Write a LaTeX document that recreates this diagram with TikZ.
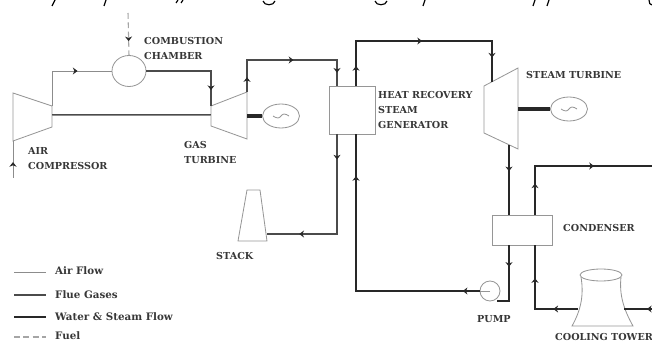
\documentclass[tikz,border=0pt]{standalone}
\usepackage{xcolor}
\usepackage{fontspec}
\setmainfont{DejaVu Serif}
\usetikzlibrary{arrows.meta, decorations.markings, shapes.geometric}
\definecolor{airgray}{RGB}{140,140,140}
\definecolor{fluegray}{RGB}{75,75,75}
\definecolor{watergray}{RGB}{40,40,40}
\definecolor{fuelgray}{RGB}{165,165,165}
\definecolor{labelgray}{RGB}{55,55,55}
\definecolor{boxgray}{RGB}{150,150,150}

\begin{document}
\begin{tikzpicture}[
    x=0.03cm,
    y=-0.03cm,
    flowmark/.style={postaction={decorate, decoration={markings, mark=at position #1 with {\arrow{Stealth[length=4pt, width=6pt, color=watergray]}}}}},
    airline/.style={draw=airgray, line width=0.8pt},
    flueline/.style={draw=fluegray, line width=1.4pt},
    waterline/.style={draw=watergray, line width=2.1pt},
    fuelline/.style={draw=fuelgray, line width=0.9pt, dash pattern=on 5pt off 3pt},
    unitbox/.style={draw=boxgray, line width=0.7pt, fill=white, inner sep=0pt},
    unitline/.style={draw=boxgray, line width=0.7pt},
    genlink/.style={draw=watergray, line width=3pt},
    shaftline/.style={draw=fluegray, line width=0.7pt, double=airgray, double distance=0.5pt},
    cutstroke/.style={draw=black, line width=1pt},
    label/.style={font=\bfseries\fontsize{8.2}{10}\selectfont, text=labelgray, inner sep=0pt, anchor=west},
    legend/.style={font=\bfseries\fontsize{8.8}{10}\selectfont, text=labelgray, inner sep=0pt, anchor=west}
]
    \useasboundingbox (0,0) rectangle (652,344);

    % Cut-off line above the figure
    \draw[cutstroke] (52,6) -- (55,0);
    \draw[cutstroke] (104,6) -- (106,0);
    \draw[cutstroke] (176,3) -- (178,0);
    \draw[cutstroke] (181,3) -- (183,0);
    \draw[cutstroke] (263,1) .. controls (264,6) and (274,6) .. (275,1);
    \draw[cutstroke] (375,1) .. controls (376,6) and (386,6) .. (387,1);
    \draw[cutstroke] (423,6) -- (425,0);
    \draw[cutstroke] (533,6) -- (535,0);
    \draw[cutstroke] (547,6) -- (549,0);
    \draw[cutstroke] (649,0) .. controls (649,3) and (650,5) .. (652,5);

    % Gas turbine cycle
    \coordinate (airin) at (13,178);
    \coordinate (compA) at (13,93);
    \coordinate (compB) at (52,106);
    \coordinate (compC) at (52,127);
    \coordinate (compD) at (13,141);
    \coordinate (compS) at (52,115);
    \coordinate (gasA) at (211,106);
    \coordinate (gasB) at (247,92);
    \coordinate (gasC) at (247,139);
    \coordinate (gasD) at (211,126);
    \coordinate (gasS) at (211,115);
    \coordinate (gasG) at (247,116);
    \coordinate (fuelin) at (128,13);
    \node[unitbox, ellipse, minimum width=34*0.03cm, minimum height=31*0.03cm] (chamber) at (129,71) {};
    \draw[unitline] (compA) -- (compB) -- (compC) -- (compD) -- cycle;
    \draw[unitline] (gasA) -- (gasB) -- (gasC) -- (gasD) -- cycle;
    \node[unitbox, ellipse, minimum width=37*0.03cm, minimum height=24*0.03cm] (gen1) at (281,116) {};
    \draw[unitline] ([xshift=-8*0.03cm]gen1.center) sin ([xshift=-3*0.03cm, yshift=-2*0.03cm]gen1.center) cos (gen1.center) sin ([xshift=3*0.03cm, yshift=2*0.03cm]gen1.center) cos ([xshift=8*0.03cm]gen1.center);

    \draw[airline, flowmark=.43] (airin) -- (compD);
    \draw[airline, flowmark=.64] (compB) |- (chamber.west);
    \draw[fuelline, flowmark=.67] (fuelin) -- (chamber.north);
    \draw[flueline, flowmark=.84] (chamber.east) -| (gasA);
    \draw[shaftline] (compS) -- (gasS);
    \draw[genlink] (gasG) -- (gen1.west);

    % Heat recovery and steam turbine
    \node[unitbox, minimum width=46*0.03cm, minimum height=48*0.03cm] (hrsg) at (352,110) {};
    \coordinate (hrsgin) at (337,86);
    \coordinate (hrsgout) at (337,134);
    \coordinate (feedin) at (356,134);
    \coordinate (feedout) at (356,86);
    \node[unitbox, minimum width=60*0.03cm, minimum height=30*0.03cm] (condenser) at (522,230) {};
    \coordinate (steamA) at (484,86);
    \coordinate (steamB) at (518,68);
    \coordinate (steamC) at (518,149);
    \coordinate (steamD) at (484,133);
    \coordinate (steamin) at (492,82);
    \coordinate (steamout) at (509,145);
    \coordinate (steamG) at (518,109);
    \coordinate (condin) at (509,215);
    \coordinate (condout) at (509,245);
    \draw[unitline] (steamA) -- (steamB) -- (steamC) -- (steamD) -- cycle;
    \node[unitbox, ellipse, minimum width=37*0.03cm, minimum height=24*0.03cm] (gen2) at (569,109) {};
    \draw[unitline] ([xshift=-8*0.03cm]gen2.center) sin ([xshift=-3*0.03cm, yshift=-2*0.03cm]gen2.center) cos (gen2.center) sin ([xshift=3*0.03cm, yshift=2*0.03cm]gen2.center) cos ([xshift=8*0.03cm]gen2.center);
    \node[unitbox, circle, minimum size=20*0.03cm] (pump) at (490,291) {};
    \draw[unitline] (pump.center) -- (pump.west);
    \coordinate (pumpin) at (497,301);

    \draw[flueline, flowmark=.10, flowmark=.53, flowmark=.91] (gasB) -- (247,60) -| (hrsgin);
    \draw[waterline, flowmark=.09, flowmark=.50, flowmark=.89] (feedout) -- (356,41) -| (steamin);
    \draw[genlink] (steamG) -- (gen2.west);
    \draw[waterline, flowmark=.375] (steamout) -- (condin);
    \draw[waterline, flowmark=.32] (condout) |- (pumpin);
    \draw[waterline, flowmark=.06, flowmark=.85] (pump.west) -| (feedin);

    % Stack
    \coordinate (stackA) at (238,241);
    \coordinate (stackB) at (247,190);
    \coordinate (stackC) at (260,190);
    \coordinate (stackD) at (267,241);
    \coordinate (stackin) at (267,234);
    \draw[unitline] (stackA) -- (stackB) -- (stackC) -- (stackD) -- cycle;
    \draw[flueline, flowmark=.15, flowmark=.81] (hrsgout) |- (stackin);

    % Cooling tower
    \coordinate (towerL) at (578,309);
    \coordinate (towerR) at (624,309);
    \coordinate (towerin) at (652,309);
    \coordinate (coolout) at (535,215);
    \coordinate (coolin) at (535,245);
    \coordinate (coolend) at (652,166);
    \draw[unitline] (581,277) .. controls (584,295) and (581,310) .. (572,326) -- (633,326) .. controls (624,310) and (619,295) .. (621,277);
    \node[unitbox, ellipse, minimum width=42*0.03cm, minimum height=12*0.03cm] (tower) at (601,275) {};
    \draw[waterline, flowmark=.19, flowmark=.65] (coolout) |- (coolend);
    \draw[waterline, flowmark=.23, flowmark=.69] (towerL) -| (coolin);
    \draw[waterline, flowmark=.18] (towerin) -- (towerR);

    % Labels
    \node[label] (chamberlabel) at (144,41) {COMBUSTION};
    \node[label] (chamberlabelb) at (144,56) {CHAMBER};
    \node[label] (airlabel) at (28,151) {AIR};
    \node[label] (airlabelb) at (28,166) {COMPRESSOR};
    \node[label] (gaslabel) at (184,145) {GAS};
    \node[label] (gaslabelb) at (184,160) {TURBINE};
    \node[label] (hrsglabel) at (378,95) {HEAT RECOVERY};
    \node[label] (hrsglabelb) at (378,110) {STEAM};
    \node[label] (hrsglabelc) at (378,125) {GENERATOR};
    \node[label] (steamlabel) at (526,75) {STEAM TURBINE};
    \node[label] (stacklabel) at (216,256) {STACK};
    \node[label] (condlabel) at (563,228) {CONDENSER};
    \node[label] (pumplabel) at (477,319) {PUMP};
    \node[label] (towerlabel) at (555,337.5) {COOLING TOWER};

    % Legend
    \coordinate (legA) at (14,272);
    \coordinate (legAe) at (46,272);
    \coordinate (legB) at (14,295);
    \coordinate (legBe) at (46,295);
    \coordinate (legC) at (14,317);
    \coordinate (legCe) at (46,317);
    \coordinate (legD) at (14,337);
    \coordinate (legDe) at (46,337);
    \draw[airline] (legA) -- (legAe);
    \draw[flueline] (legB) -- (legBe);
    \draw[waterline] (legC) -- (legCe);
    \draw[fuelline] (legD) -- (legDe);
    \node[legend] (legtextA) at (55,271) {Air Flow};
    \node[legend] (legtextB) at (55,295) {Flue Gases};
    \node[legend] (legtextC) at (55,317) {Water \& Steam Flow};
    \node[legend] (legtextD) at (55,336) {Fuel};
\end{tikzpicture}
\end{document}
